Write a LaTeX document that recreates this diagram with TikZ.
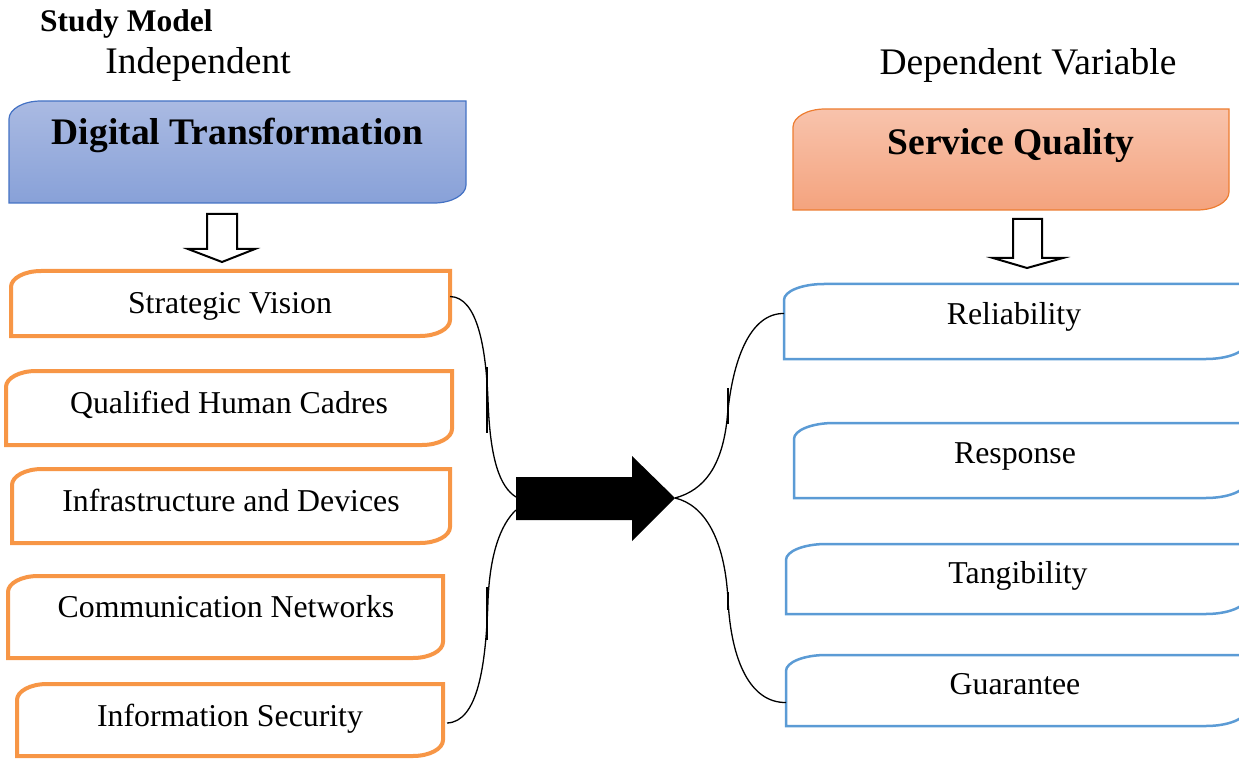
\documentclass[tikz,border=0pt]{standalone}
\usepackage{fontspec}
\setmainfont{Liberation Serif}
\usetikzlibrary{calc}
\definecolor{orbox}{HTML}{F79646}
\definecolor{blbox}{HTML}{5B9BD5}
\definecolor{dtedge}{HTML}{4472C4}
\definecolor{dttop}{HTML}{AABAE2}
\definecolor{dtbot}{HTML}{88A1D8}
\definecolor{sqedge}{HTML}{ED7D31}
\definecolor{sqtop}{HTML}{F8C3AC}
\definecolor{sqbot}{HTML}{F4A37E}
\newcommand\diagshape[4]{%
  \draw[#2] (#1.south west) -- ([yshift=-#4]#1.north west)
    arc[start angle=180, end angle=90, x radius=#3, y radius=#4]
    -- (#1.north east) -- ([yshift=#4]#1.south east)
    arc[start angle=0, end angle=-90, x radius=#3, y radius=#4] -- cycle;}
\tikzset{
  boxarea/.style={inner sep=0pt, outer sep=0pt, draw=none},
  bodytext/.style={inner sep=0pt, anchor=base, font=\fontsize{31.8}{36}\selectfont},
  titletext/.style={inner sep=0pt, anchor=base, font=\fontsize{37.5}{42}\selectfont\bfseries},
  headtext/.style={inner sep=0pt, anchor=base, font=\fontsize{37.5}{42}\selectfont},
  orline/.style={draw=orbox, line width=4pt, fill=white},
  blline/.style={draw=blbox, line width=2.5pt, fill=white},
  dtline/.style={draw=dtedge, line width=1.2pt, top color=dttop, bottom color=dtbot},
  sqline/.style={draw=sqedge, line width=1.2pt, top color=sqtop, bottom color=sqbot},
  hollow/.style={draw=black, line width=2pt, fill=white},
  brace/.style={draw=black, line width=1.3pt},
  tick/.style={draw=black, line width=2.2pt}
}
\begin{document}
\begin{tikzpicture}[x=1pt,y=-1pt]
\useasboundingbox (0,0) rectangle (1239,759);

% box areas
\node[boxarea, minimum width=457, minimum height=102] (dt) at (237.5,152) {};
\node[boxarea, minimum width=436, minimum height=101] (sq) at (1011,159.5) {};
\node[boxarea, minimum width=439, minimum height=65] (sv) at (230.5,303.5) {};
\node[boxarea, minimum width=446, minimum height=74] (qh) at (229,408) {};
\node[boxarea, minimum width=438, minimum height=74] (inf) at (231,506) {};
\node[boxarea, minimum width=435, minimum height=82] (cn) at (225.5,617) {};
\node[boxarea, minimum width=426, minimum height=72] (is) at (230,720) {};
\node[boxarea, minimum width=462, minimum height=75] (rel) at (1015,321.5) {};
\node[boxarea, minimum width=452, minimum height=75] (res) at (1020,460.5) {};
\node[boxarea, minimum width=460, minimum height=70] (tan) at (1016,579) {};
\node[boxarea, minimum width=460, minimum height=71] (gua) at (1016,690.5) {};

% shapes
\diagshape{dt}{dtline}{32pt}{18pt}
\diagshape{sq}{sqline}{32pt}{18pt}
\diagshape{sv}{orline}{30pt}{16pt}
\diagshape{qh}{orline}{30pt}{16pt}
\diagshape{inf}{orline}{30pt}{16pt}
\diagshape{cn}{orline}{30pt}{16pt}
\diagshape{is}{orline}{30pt}{16pt}
\diagshape{rel}{blline}{40pt}{16pt}
\diagshape{res}{blline}{40pt}{16pt}
\diagshape{tan}{blline}{40pt}{16pt}
\diagshape{gua}{blline}{40pt}{16pt}

% header texts
\node[inner sep=0pt, anchor=base west, font=\fontsize{31.5}{36}\selectfont\bfseries] (study) at (40,32) {Study Model};
\node[headtext] (indep) at (198,74) {Independent};
\node[headtext] (dep) at (1028,75) {Dependent Variable};

% box texts
\node[titletext] (dtt) at (237.5,145) {Digital Transformation};
\node[titletext] (sqt) at (1011,155) {Service Quality};
\node[bodytext] (svt) at (230,313) {Strategic Vision};
\node[bodytext] (qht) at (229,413) {Qualified Human Cadres};
\node[bodytext] (inft) at (231,511) {Infrastructure and Devices};
\node[bodytext] (cnt) at (226,617) {Communication Networks};
\node[bodytext] (ist) at (230,726) {Information Security};
\node[bodytext] (relt) at (1014,324) {Reliability};
\node[bodytext] (rest) at (1015,463) {Response};
\node[bodytext] (tant) at (1018,583) {Tangibility};
\node[bodytext] (guat) at (1015,694) {Guarantee};

% hollow down arrows
\draw[hollow] (207,214) -- (237,214) -- (237,249) -- (255,249) -- (222,262) -- (188,249) -- (207,249) -- cycle;
\draw[hollow] (1013,219) -- (1042,219) -- (1042,258) -- (1063,258) -- (1027,268) -- (993,258) -- (1013,258) -- cycle;

% big black arrow
\coordinate (bta) at (516,497);
\coordinate (btb) at (516,510);
\coordinate (tip) at (675,498);
\fill[black] (516,477) -- (632,477) -- (632,456) -- (tip) -- (632,541) -- (632,520) -- (516,520) -- cycle;

% braces
\draw[brace] ([yshift=7pt]sv.east) .. controls (478,297) and (486,350) .. (488,400)
  .. controls (490,460) and (500,487) .. (bta);
\draw[brace] (btb) .. controls (500,525) and (490,555) .. (488,600)
  .. controls (486,665) and (478,722) .. ([xshift=4pt,yshift=-3pt]is.east);
\draw[brace] (tip) .. controls (705,490) and (722,465) .. (727,420)
  .. controls (732,360) and (750,313) .. ([yshift=8pt]rel.west);
\draw[brace] (tip) .. controls (705,505) and (725,540) .. (728,600)
  .. controls (731,660) and (750,703) .. ([yshift=-12pt]gua.west);

% ticks
\draw[tick] (487,367) -- (487,433);
\draw[tick] (487,587) -- (487,640);
\draw[tick] (728,388) -- (728,424);
\draw[tick] (728,592) -- (728,610);
\end{tikzpicture}
\end{document}
